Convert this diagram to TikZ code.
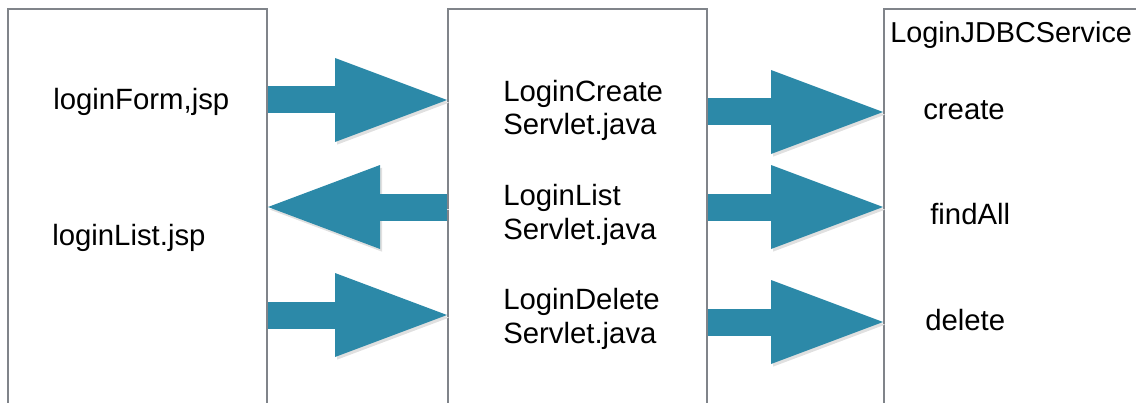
\documentclass[tikz,border=0pt]{standalone}
\usepackage{fontspec}
\setmainfont{Liberation Sans}
\usetikzlibrary{arrows.meta}
\definecolor{flowblue}{RGB}{44,137,168}
\definecolor{tiergray}{RGB}{128,132,138}

\begin{document}
\begin{tikzpicture}[x=0.75pt,y=-0.75pt]
  \useasboundingbox (0,0) rectangle (1136,403);
  \tikzstyle{tier}=[rectangle,draw=tiergray,line width=1.5pt,
    minimum width=194.25pt,minimum height=320pt,
    anchor=north west,inner sep=0pt]
  \tikzstyle{lbl}=[anchor=base west,inner sep=0pt,align=left,
    font=\fontsize{22}{25}\selectfont]

  \node[tier]                   (view) at (7,8)   {};
  \node[tier]                   (ctrl) at (447,8) {};
  \node[tier,minimum width=260pt] (svc) at (883,8) {};

  \node[lbl] (form)     at (53,110)  {loginForm,jsp};
  \node[lbl] (list)     at (52,245)  {loginList.jsp};
  \node[lbl] (create)   at (503,135) {LoginCreate\\Servlet.java};
  \node[lbl] (listsv)   at (503,239) {LoginList\\Servlet.java};
  \node[lbl] (deletesv) at (503,343) {LoginDelete\\Servlet.java};
  \node[lbl,font=\fontsize{21.6}{25}\selectfont]
             (jdbc)     at (890,43)  {LoginJDBCService};
  \node[lbl] (mcreate)  at (923,120) {create};
  \node[lbl] (mfind)    at (930,224) {findAll};
  \node[lbl] (mdelete)  at (925,330) {delete};

  \tikzstyle{flow}=[flowblue,line width=20.25pt,
    -{Triangle[length=84pt,width=63pt,line width=0pt]},
    preaction={draw=black!12,transform canvas={shift={(1.5pt,-2pt)}}}]

  \draw[flow] (view.east |- 0,100) -- (ctrl.west |- 0,100);
  \draw[flow] (ctrl.west |- 0,207) -- (view.east |- 0,207);
  \draw[flow] (view.east |- 0,315) -- (ctrl.west |- 0,315);

  \draw[flow] (ctrl.east |- 0,112) -- (svc.west |- 0,112);
  \draw[flow] (ctrl.east |- 0,207) -- (svc.west |- 0,207);
  \draw[flow] (ctrl.east |- 0,322) -- (svc.west |- 0,322);
\end{tikzpicture}
\end{document}
